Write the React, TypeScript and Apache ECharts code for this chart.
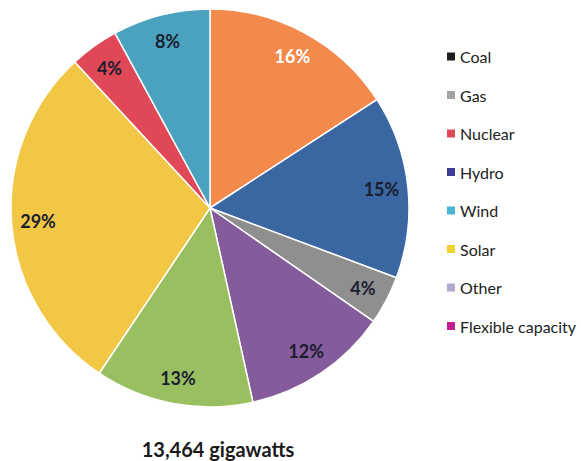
import React, { useEffect, useRef } from "react";
import * as echarts from "echarts";

// Share of capacity by source, clockwise from 12 o'clock (percent)
const sliceNames = ["Coal", "Hydro", "Gas", "Flexible capacity", "Other", "Solar", "Nuclear", "Wind"];
const sliceValues = [16, 15, 4, 12, 13, 29, 4, 8];
const sliceColors = ["#F4894C", "#3A66A2", "#8F8F8F", "#845B9B", "#99BF60", "#F2C746", "#E04757", "#4AA2BF"];
const labelColors = ["#ffffff", "#1b1d2e", "#1b1d2e", "#1b1d2e", "#1b1d2e", "#1b1d2e", "#1b1d2e", "#1b1d2e"];

// Legend entries and their swatch colours
const legendNames = ["Coal", "Gas", "Nuclear", "Hydro", "Wind", "Solar", "Other", "Flexible capacity"];
const legendColors = ["#1c1c1c", "#a3a3a3", "#E04757", "#3B3C95", "#4AB6D3", "#EFD132", "#B3A9CA", "#C41C8C"];

const totalLabel = "13,464 gigawatts";

const FONT = "Lato, 'Open Sans', sans-serif";

export default function App() {
  const ref = useRef<HTMLDivElement>(null);

  useEffect(() => {
    document.body.style.margin = "0";
    if (!ref.current) return;
    const chart = echarts.init(ref.current, null, { renderer: "svg" });

    const fillData = sliceNames.map((name, i) => ({
      name,
      value: sliceValues[i],
      itemStyle: { color: sliceColors[i] },
    }));
    const labelData = sliceNames.map((name, i) => ({
      name,
      value: sliceValues[i],
      label: { color: labelColors[i] },
    }));

    chart.setOption({
      animation: false,
      backgroundColor: "#ffffff",
      title: {
        text: totalLabel,
        left: 218,
        top: 439,
        padding: 0,
        textAlign: "center",
        textStyle: { fontFamily: FONT, fontSize: 20, fontWeight: "bold", color: "#1a1a1a", lineHeight: 20 },
      },
      legend: {
        orient: "vertical",
        left: 445,
        top: 48,
        padding: 0,
        itemWidth: 10,
        itemHeight: 10,
        itemGap: 21.5,
        icon: "rect",
        selectedMode: false,
        textStyle: { fontFamily: FONT, fontSize: 16, color: "#222222", padding: [0, 0, 0, -1], lineHeight: 17 },
        data: legendNames.map((name, i) => ({ name, itemStyle: { color: legendColors[i] } })),
      },
      series: [
        {
          type: "pie",
          center: [210, 208],
          radius: [0, 199],
          startAngle: 90,
          clockwise: true,
          silent: true,
          label: { show: false },
          labelLine: { show: false },
          itemStyle: { borderColor: "#ffffff", borderWidth: 1.5 },
          data: fillData,
        },
        {
          // transparent ring that carries the percentage labels near the rim
          type: "pie",
          center: [210, 208],
          radius: [140, 199],
          startAngle: 90,
          clockwise: true,
          silent: true,
          itemStyle: { color: "rgba(0,0,0,0)", borderWidth: 0 },
          label: {
            show: true,
            position: "inside",
            formatter: "{c}%",
            fontFamily: FONT,
            fontSize: 18,
            fontWeight: "bold",
          },
          labelLine: { show: false },
          data: labelData,
        },
      ],
    });

    return () => chart.dispose();
  }, []);

  return <div ref={ref} style={{ width: 581, height: 461 }} />;
}
